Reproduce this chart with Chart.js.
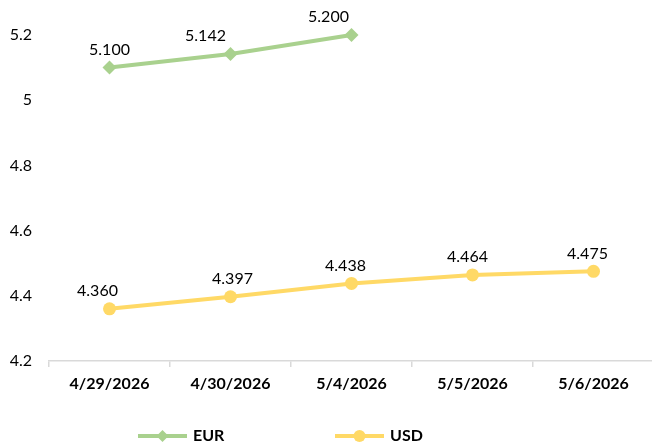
<!DOCTYPE html>
<html>
<head>
<meta charset="utf-8">
<script src="https://cdn.jsdelivr.net/npm/chart.js@4/dist/chart.umd.min.js"></script>
<style>
  html, body { margin: 0; padding: 0; background: #fff; overflow: hidden; }
  #wrap { width: 661px; height: 444px; position: relative; }
</style>
</head>
<body>
<div id="wrap"><canvas id="chart"></canvas></div>
<script>
// Exchange rates by date
var DATES = ["4/29/2026", "4/30/2026", "5/4/2026", "5/5/2026", "5/6/2026"];
var EUR = [5.100, 5.142, 5.200, null, null];
var USD = [4.360, 4.397, 4.438, 4.464, 4.475];
var Y_MIN = 4.2;
var Y_MAX = 5.2;
var Y_STEP = 0.2;

// horizontal nudges of the value labels (px), like the spreadsheet placed them
var EUR_LABEL_DX = [0, -25, -23, 0, 0];
var USD_LABEL_DX = [-12, 2, -6, -5, -6];

var FONT = "Lato, 'Liberation Sans', sans-serif";
var GREEN = "#a9d18e";
var YELLOW = "#ffd966";

// value labels above each point
var valueLabels = {
  id: "valueLabels",
  afterDatasetsDraw: function(chart) {
    var ctx = chart.ctx;
    ctx.save();
    ctx.font = "16px " + FONT;
    ctx.fillStyle = "#000";
    ctx.textAlign = "center";
    ctx.textBaseline = "middle";
    chart.data.datasets.forEach(function(ds, di) {
      var meta = chart.getDatasetMeta(di);
      meta.data.forEach(function(pt, i) {
        var v = ds.data[i];
        if (v === null || v === undefined) return;
        ctx.fillText(v.toFixed(3), pt.x + ds.labelDx[i], pt.y - 18);
      });
    });
    ctx.restore();
  }
};

// legend with line + marker symbol
var lineLegend = {
  id: "lineLegend",
  afterDraw: function(chart) {
    var ctx = chart.ctx;
    var items = [
      { x: 138, ds: chart.data.datasets[0] },
      { x: 335, ds: chart.data.datasets[1] }
    ];
    var y = 436;
    ctx.save();
    items.forEach(function(it) {
      ctx.strokeStyle = it.ds.borderColor;
      ctx.lineWidth = 4;
      ctx.beginPath();
      ctx.moveTo(it.x, y);
      ctx.lineTo(it.x + 49, y);
      ctx.stroke();
      ctx.fillStyle = it.ds.borderColor;
      ctx.beginPath();
      if (it.ds.pointStyle === "rectRot") {
        ctx.moveTo(it.x + 24.5, y - 6);
        ctx.lineTo(it.x + 30.5, y);
        ctx.lineTo(it.x + 24.5, y + 6);
        ctx.lineTo(it.x + 18.5, y);
      } else {
        ctx.arc(it.x + 24.5, y, 6, 0, Math.PI * 2);
      }
      ctx.fill();
      ctx.fillStyle = "#000";
      ctx.font = "bold 16px " + FONT;
      ctx.textAlign = "left";
      ctx.textBaseline = "middle";
      ctx.fillText(it.ds.label, it.x + 55, y);
    });
    ctx.restore();
  }
};

new Chart(document.getElementById("chart"), {
  type: "line",
  data: {
    labels: DATES,
    datasets: [
      {
        label: "EUR",
        data: EUR,
        labelDx: EUR_LABEL_DX,
        borderColor: GREEN,
        backgroundColor: GREEN,
        borderWidth: 4,
        pointStyle: "rectRot",
        pointRadius: 7,
        pointBorderWidth: 0,
        tension: 0,
        clip: false
      },
      {
        label: "USD",
        data: USD,
        labelDx: USD_LABEL_DX,
        borderColor: YELLOW,
        backgroundColor: YELLOW,
        borderWidth: 4,
        pointStyle: "circle",
        pointRadius: 6.5,
        pointBorderWidth: 0,
        tension: 0,
        clip: false
      }
    ]
  },
  options: {
    responsive: true,
    maintainAspectRatio: false,
    animation: false,
    layout: { padding: { top: 35, right: 0, bottom: 43, left: 0 } },
    plugins: {
      legend: { display: false },
      tooltip: { enabled: false }
    },
    scales: {
      x: {
        offset: true,
        grid: {
          display: true,
          offset: true,
          drawOnChartArea: false,
          tickLength: 6,
          color: "#d9d9d9",
          lineWidth: 1.5
        },
        border: { color: "#d9d9d9", width: 1.5 },
        ticks: {
          color: "#000",
          font: { family: FONT, size: 16, weight: "bold" },
          padding: 7,
          maxRotation: 0
        },
        afterFit: function(scale) { scale.height = 40; }
      },
      y: {
        min: Y_MIN,
        max: Y_MAX,
        grid: { display: false, drawTicks: false },
        border: { display: false },
        ticks: {
          stepSize: Y_STEP,
          color: "#000",
          font: { family: FONT, size: 16 },
          padding: 17,
          callback: function(v) { return String(Number(v.toFixed(1))); }
        },
        afterFit: function(scale) { scale.width = 49; }
      }
    }
  },
  plugins: [valueLabels, lineLegend]
});
</script>
</body>
</html>
